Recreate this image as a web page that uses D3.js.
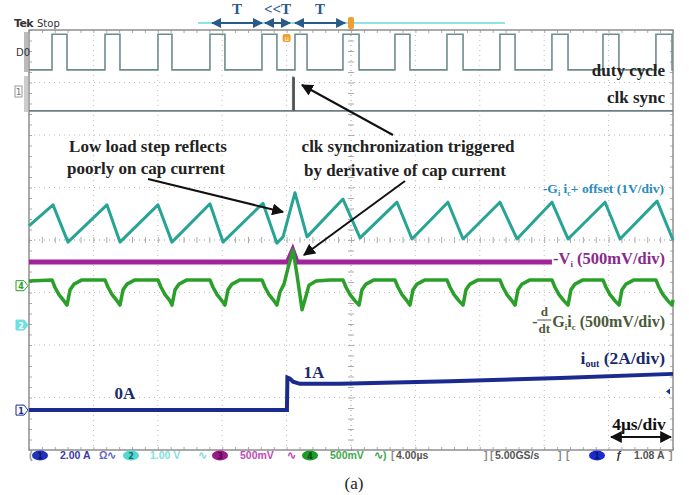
<!DOCTYPE html>
<html><head><meta charset="utf-8">
<script src="https://cdn.jsdelivr.net/npm/d3@7"></script>
<style>body{margin:0;background:#fff}svg{display:block}</style>
</head><body>
<svg id="c" width="689" height="495"></svg>
<script>
// ---- data (time in µs, trace values in divisions) ----
const timeDomain = [-20, 20];
const divDomain = [-4, 4];
const dutyRise = [-18.57,-15.28,-11.99,-8.76,-5.53,-3.48,-0.50,2.73,5.96,9.25,12.48,15.65,18.94];
const dutyFall = [-17.64,-14.35,-11.12,-7.83,-4.60,-2.73,0.50,3.66,6.96,10.19,13.48,16.64,19.94];
const dutyLevels = [3.24, 3.92];
const clkT = [-20, -3.62, -3.62, -3.58, -3.58, 20];
const clkV = [2.46, 2.46, 3.10, 3.10, 2.46, 2.46];
const cyanT = [-20.00,-18.51,-17.58,-15.16,-14.35,-11.99,-11.12,-8.76,-7.95,-5.47,-4.60,-4.22,-3.48,-2.73,-0.50,0.56,2.86,3.79,6.02,6.96,9.25,10.31,12.48,13.48,15.78,16.71,19.01,20.00];
const cyanV = [0.27,0.67,-0.04,0.67,-0.04,0.67,-0.04,0.69,-0.04,0.70,-0.06,0.06,0.90,0.06,0.78,0.04,0.72,0.02,0.72,0.02,0.72,0.02,0.72,0.02,0.72,0.02,0.74,0.00];
const viT = [-20, -3.95, -3.62, -3.35, 12.48];
const viV = [-0.42, -0.42, -0.19, -0.42, -0.42];
const greenT = [-20.00,
 -18.57,-18.39,-18.14,-17.83,-17.64,-17.45,-17.20,-16.71,
 -15.28,-15.09,-14.84,-14.53,-14.35,-14.16,-13.91,-13.42,
 -11.99,-11.80,-11.55,-11.24,-11.12,-10.93,-10.68,-10.19,
 -8.76,-8.57,-8.32,-8.01,-7.83,-7.64,-7.39,-6.89,
 -5.53,-5.34,-5.09,-4.78,-4.60,-4.41,-4.16,
 -3.91,-3.60,-3.35,-3.04,-2.86,-2.61,-2.17,-1.30,
 -0.50,-0.31,-0.06,0.25,0.50,0.68,0.93,1.43,
 2.73,2.92,3.17,3.48,3.66,3.85,4.10,4.60,
 5.96,6.15,6.40,6.71,6.96,7.14,7.39,7.89,
 9.25,9.44,9.69,10.00,10.19,10.37,10.62,11.12,
 12.48,12.67,12.92,13.23,13.48,13.66,13.91,14.41,
 15.65,15.84,16.09,16.40,16.65,16.83,17.08,17.58,
 18.94,19.13,19.38,19.69,19.94,20.00];
const greenV = [-0.78,
 -0.76,-0.90,-1.04,-1.16,-1.24,-0.95,-0.84,-0.76,
 -0.76,-0.90,-1.04,-1.16,-1.24,-0.95,-0.84,-0.76,
 -0.76,-0.90,-1.04,-1.16,-1.24,-0.95,-0.84,-0.76,
 -0.76,-0.90,-1.04,-1.16,-1.24,-0.95,-0.84,-0.76,
 -0.76,-0.90,-1.04,-1.16,-1.24,-0.99,-0.84,
 -0.53,-0.19,-0.67,-1.33,-1.14,-0.86,-0.78,-0.76,
 -0.76,-0.90,-1.04,-1.16,-1.24,-0.95,-0.84,-0.76,
 -0.76,-0.90,-1.04,-1.16,-1.24,-0.95,-0.84,-0.76,
 -0.76,-0.90,-1.04,-1.16,-1.24,-0.95,-0.84,-0.76,
 -0.76,-0.90,-1.04,-1.16,-1.24,-0.95,-0.84,-0.76,
 -0.76,-0.90,-1.04,-1.16,-1.24,-0.95,-0.84,-0.76,
 -0.76,-0.90,-1.04,-1.16,-1.24,-0.95,-0.84,-0.76,
 -0.76,-0.90,-1.04,-1.16,-1.24,-1.14];
const ioutT = [-20, -3.98, -3.95, -3.79, -3.60, -3.17, -0.68, 6.15, 12.98, 20];
const ioutV = [-3.24, -3.24, -2.62, -2.64, -2.70, -2.74, -2.74, -2.69, -2.63, -2.55];
const periodArrows = [[-8.62,-5.53,"T"],[-5.34,-3.79,"<<T"],[-3.48,-0.37,"T"]];
const statusItems = ["2.00 A", "1.00 V", "500mV", "500mV", "4.00µs", "5.00GS/s", "1.08 A"];

// ---- scales ----
const svg = d3.select("#c");
const L = 29, R = 673, T = 30, B = 450;
const x = d3.scaleLinear().domain(timeDomain).range([L, R]);
const y = d3.scaleLinear().domain(divDomain).range([B, T]);
const serif = "'Liberation Serif', 'DejaVu Serif', serif";
const sans = "'DejaVu Sans', 'Liberation Sans', sans-serif";
const lsans = "'Liberation Sans', Arial, sans-serif";

svg.append("rect").attr("width",689).attr("height",495).attr("fill","#fff");

// ---- grid ----
const g = svg.append("g");
const vDiv = d3.range(timeDomain[0]+4, timeDomain[1], 4);
const hDiv = d3.range(divDomain[0]+1, divDomain[1], 1);
g.selectAll(".vg").data(vDiv).join("line").attr("x1",d=>x(d)).attr("x2",d=>x(d)).attr("y1",T).attr("y2",B)
  .attr("stroke","#bbb").attr("stroke-dasharray","1,4");
g.selectAll(".hg").data(hDiv).join("line").attr("y1",d=>y(d)).attr("y2",d=>y(d)).attr("x1",L).attr("x2",R)
  .attr("stroke","#bbb").attr("stroke-dasharray","1,4");
const minorT = d3.range(timeDomain[0], timeDomain[1]+0.01, 0.8);
const minorV = d3.range(divDomain[0], divDomain[1]+0.01, 0.2);
function styleAxis(sel){ sel.select(".domain").remove(); sel.selectAll("line").attr("stroke","#aaa"); sel.selectAll("text").remove(); }
g.append("g").attr("transform",`translate(0,${y(0)-3})`).call(d3.axisBottom(x).tickValues(minorT).tickSize(6)).call(styleAxis);
g.append("g").attr("transform",`translate(${x(0)-3},0)`).call(d3.axisRight(y).tickValues(minorV).tickSize(6)).call(styleAxis);
g.append("g").attr("transform",`translate(0,${T})`).call(d3.axisBottom(x).tickValues(minorT).tickSize(3)).call(styleAxis);
g.append("g").attr("transform",`translate(0,${B})`).call(d3.axisTop(x).tickValues(minorT).tickSize(3)).call(styleAxis);
g.append("g").attr("transform",`translate(${L},0)`).call(d3.axisRight(y).tickValues(minorV).tickSize(3)).call(styleAxis);
g.append("g").attr("transform",`translate(${R},0)`).call(d3.axisLeft(y).tickValues(minorV).tickSize(3)).call(styleAxis);
g.append("line").attr("x1",L).attr("x2",R).attr("y1",y(0)).attr("y2",y(0)).attr("stroke","#bbb").attr("stroke-dasharray","1,4");
g.append("line").attr("y1",T).attr("y2",B).attr("x1",x(0)).attr("x2",x(0)).attr("stroke","#bbb").attr("stroke-dasharray","1,4");
g.append("rect").attr("x",L).attr("y",T).attr("width",R-L).attr("height",B-T).attr("fill","none").attr("stroke","#8f8f8f").attr("stroke-width",1.5);

// ---- traces ----
const line = d3.line().x(d=>x(d[0])).y(d=>y(d[1]));
const dutyPts = [[timeDomain[0], dutyLevels[0]]];
dutyRise.forEach((r,i)=>{ dutyPts.push([r,dutyLevels[0]],[r,dutyLevels[1]],[dutyFall[i],dutyLevels[1]],[dutyFall[i],dutyLevels[0]]); });
dutyPts.push([timeDomain[1], dutyLevels[0]]);
svg.append("path").attr("d",line(dutyPts)).attr("fill","none").attr("stroke","#6f8c8c").attr("stroke-width",1.6);

svg.append("path").attr("d",line(d3.zip(clkT,clkV))).attr("fill","none").attr("stroke","#6d7f86").attr("stroke-width",1.6);
svg.append("line").attr("x1",x(clkT[1])+1).attr("x2",x(clkT[1])+1).attr("y1",y(clkV[0])).attr("y2",y(clkV[2])).attr("stroke","#555").attr("stroke-width",2.5);

svg.append("path").attr("d",line(d3.zip(cyanT,cyanV))).attr("fill","none").attr("stroke","#27a494").attr("stroke-width",3).attr("stroke-linejoin","round");
svg.append("path").attr("d",line(d3.zip(viT,viV))).attr("fill","none").attr("stroke","#a1229a").attr("stroke-width",5);
svg.append("path").attr("d",line(d3.zip(greenT,greenV))).attr("fill","none").attr("stroke","#2aa02a").attr("stroke-width",3.5).attr("stroke-linejoin","round");
svg.append("path").attr("d",line(d3.zip(ioutT,ioutV))).attr("fill","none").attr("stroke","#1a2a8e").attr("stroke-width",4);

// ---- top header ----
svg.append("text").attr("x",14).attr("y",27).attr("font-family",sans).attr("font-size",11).attr("font-weight","bold").attr("fill","#333").attr("letter-spacing",-0.6).text("Tek");
svg.append("text").attr("x",37).attr("y",27).attr("font-family",sans).attr("font-size",10).attr("fill","#333").text("Stop");
svg.append("line").attr("x1",198).attr("x2",505).attr("y1",23).attr("y2",23).attr("stroke","#8fe3e8").attr("stroke-width",2);
const defs = svg.append("defs");
function mk(id,color,s){ defs.append("marker").attr("id",id).attr("viewBox","0 0 10 10").attr("refX",9).attr("refY",5)
  .attr("markerWidth",s).attr("markerHeight",s).attr("orient","auto-start-reverse")
  .append("path").attr("d","M0,0L10,5L0,10z").attr("fill",color); }
mk("ab","#2a5a8a",5); mk("ak","#111",6);
periodArrows.forEach(a=>{
  svg.append("line").attr("x1",x(a[0])).attr("x2",x(a[1])).attr("y1",23).attr("y2",23).attr("stroke","#2a5a8a").attr("stroke-width",2)
    .attr("marker-start","url(#ab)").attr("marker-end","url(#ab)");
  svg.append("text").attr("x",(x(a[0])+x(a[1]))/2).attr("y",14).attr("text-anchor","middle").attr("font-family",serif)
    .attr("font-size",15).attr("font-weight","bold").attr("fill","#2a5a8a").text(a[2]);
});
svg.append("rect").attr("x",x(0)-3).attr("y",17).attr("width",6).attr("height",12).attr("rx",2).attr("fill","#f0a030");
svg.append("rect").attr("x",x(-4.0)-4).attr("y",34).attr("width",8).attr("height",8).attr("rx",2).attr("fill","#f0a030");
svg.append("text").attr("x",x(-4.0)).attr("y",41).attr("text-anchor","middle").attr("font-family",sans).attr("font-size",7).attr("fill","#fff").text("u");

// ---- left channel markers ----
svg.append("rect").attr("x",24).attr("y",32).attr("width",4).attr("height",40).attr("fill","#bbb");
svg.append("rect").attr("x",24).attr("y",76).attr("width",4).attr("height",36).attr("fill","#ccc");
svg.append("text").attr("x",16).attr("y",56).attr("font-family",sans).attr("font-size",10).attr("fill","#333").text("D0");
svg.append("rect").attr("x",15).attr("y",86).attr("width",7).attr("height",11).attr("fill","none").attr("stroke","#999");
svg.append("text").attr("x",18.5).attr("y",95).attr("text-anchor","middle").attr("font-family",sans).attr("font-size",9).attr("fill","#777").text("1");
function chMark(cy,label,fill,stroke,tc){
  svg.append("path").attr("d",`M16,${cy-5}h8l4,5l-4,5h-8z`).attr("fill",fill).attr("stroke",stroke).attr("stroke-width",1);
  svg.append("text").attr("x",21).attr("y",cy+3.5).attr("text-anchor","middle").attr("font-family",sans).attr("font-size",8).attr("font-weight","bold").attr("fill",tc).text(label);
}
chMark(y(-0.87),"4","#fff","#2aa02a","#2aa02a");
chMark(y(-1.62),"2","#6fe0e0","#6fe0e0","#fff");
chMark(y(-3.24),"1","#fff","#1a2a8e","#1a2a8e");
svg.append("path").attr("d",`M670,${y(-2.83)}l-4,3l4,3z`).attr("fill","#1a2a8e");

// ---- annotations ----
function txt(xp,yp,s,opt={}){
  return svg.append("text").attr("x",xp).attr("y",yp).attr("font-family",serif).attr("font-weight","bold")
    .attr("font-size",opt.size||17).attr("fill",opt.fill||"#222").attr("text-anchor",opt.anchor||"start").text(s);
}
txt(148,152,"Low load step reflects",{anchor:"middle"});
txt(146,174,"poorly on cap current",{anchor:"middle"});
txt(408,152,"clk synchronization triggered",{anchor:"middle"});
txt(405,176,"by derivative of cap current",{anchor:"middle"});
function arrow(x1,y1,x2,y2){ svg.append("line").attr("x1",x1).attr("y1",y1).attr("x2",x2).attr("y2",y2).attr("stroke","#111").attr("stroke-width",2).attr("marker-end","url(#ak)"); }
arrow(148,179,283,212);
arrow(393,135,302,85);
arrow(405,181,304,255);

txt(665,76,"duty cycle",{anchor:"end"});
txt(665,103,"clk sync",{anchor:"end"});
const lc = txt(664,193,"",{anchor:"end",fill:"#2a8cbc",size:13.5});
lc.append("tspan").text("-G");
lc.append("tspan").attr("font-size",8).attr("dy",3).text("i");
lc.append("tspan").attr("dy",-3).text(" i");
lc.append("tspan").attr("font-size",8).attr("dy",3).text("c");
lc.append("tspan").attr("dy",-3).text("+ offset (1V/div)");
const lv = txt(553,264,"",{fill:"#8a2a8a",size:16.5});
lv.append("tspan").text("-V");
lv.append("tspan").attr("font-size",9).attr("dy",3).text("i");
lv.append("tspan").attr("dy",-3).text(" (500mV/div)");
const gc = "#4b5a3a";
const lg = txt(665,327,"",{fill:gc,size:16,anchor:"end"});
lg.append("tspan").text("G");
lg.append("tspan").attr("font-size",9).attr("dy",3).text("i");
lg.append("tspan").attr("dy",-3).text("i");
lg.append("tspan").attr("font-size",9).attr("dy",3).text("c");
lg.append("tspan").attr("dy",-3).text(" (500mV/div)");
const gx = lg.node().getBBox().x;
txt(gx-20,327,"-",{fill:gc,size:16});
txt(gx-8,316,"d",{fill:gc,size:13,anchor:"middle"});
svg.append("line").attr("x1",gx-15).attr("x2",gx-1).attr("y1",320).attr("y2",320).attr("stroke",gc).attr("stroke-width",1);
txt(gx-8,333,"dt",{fill:gc,size:13,anchor:"middle"});
const li = txt(665,364,"",{anchor:"end",fill:"#1c2a6a",size:17.5});
li.append("tspan").text("i");
li.append("tspan").attr("font-size",10).attr("dy",3).text("out");
li.append("tspan").attr("dy",-3).text(" (2A/div)");
txt(125,399,"0A",{anchor:"middle",fill:"#1c2a6a"});
txt(314,378,"1A",{anchor:"middle",fill:"#1c2a6a"});
txt(639,430,"4μs/div",{anchor:"middle",fill:"#111",size:17.5});
svg.append("line").attr("x1",611).attr("x2",671).attr("y1",437).attr("y2",437).attr("stroke","#111").attr("stroke-width",2)
  .attr("marker-start","url(#ak)").attr("marker-end","url(#ak)");

// ---- status bar ----
const sb = 459;
function pill(cx,fill,label,tc){
  svg.append("ellipse").attr("cx",cx).attr("cy",sb-3.5).attr("rx",8).attr("ry",5).attr("fill",fill);
  svg.append("text").attr("x",cx).attr("y",sb-0.5).attr("text-anchor","middle").attr("font-family",sans).attr("font-size",8).attr("font-weight","bold").attr("fill",tc).text(label);
}
function st(xp,s,fill){ svg.append("text").attr("x",xp).attr("y",sb).attr("font-family",lsans).attr("font-size",10.5).attr("font-weight","bold").attr("fill",fill).text(s); }
st(29,"(","#999");
pill(40,"#2233bb","1","#0a1560");
st(60,statusItems[0],"#3a3aa8");
st(99,"Ω∿","#6a6ac8");
pill(131,"#55d8d0","2","#1b6b66");
st(150,statusItems[1],"#7fe0da");
st(198,"∿","#7fe0da");
pill(220,"#9a1a8a","3","#4a0a40");
st(240,statusItems[2],"#c04ab8");
st(287,"∿","#c04ab8");
pill(310,"#1f9a2a","4","#0a4a10");
st(330,statusItems[3],"#3aaa4a");
st(374,"∿)","#3aaa4a");
st(391,"[","#888");
st(396,statusItems[4],"#555");
st(484,"]","#888");
st(490,"[","#888");
st(495,statusItems[5],"#555");
st(558,"]","#888");
st(566,"[","#888");
pill(597,"#1a2ad0","1","#0a1560");
st(616,"ƒ","#333");
st(634,statusItems[6],"#555");
st(669,"]","#888");

svg.append("text").attr("x",354).attr("y",489).attr("text-anchor","middle").attr("font-family",serif).attr("font-size",17).attr("fill","#222").text("(a)");
</script>
</body></html>
